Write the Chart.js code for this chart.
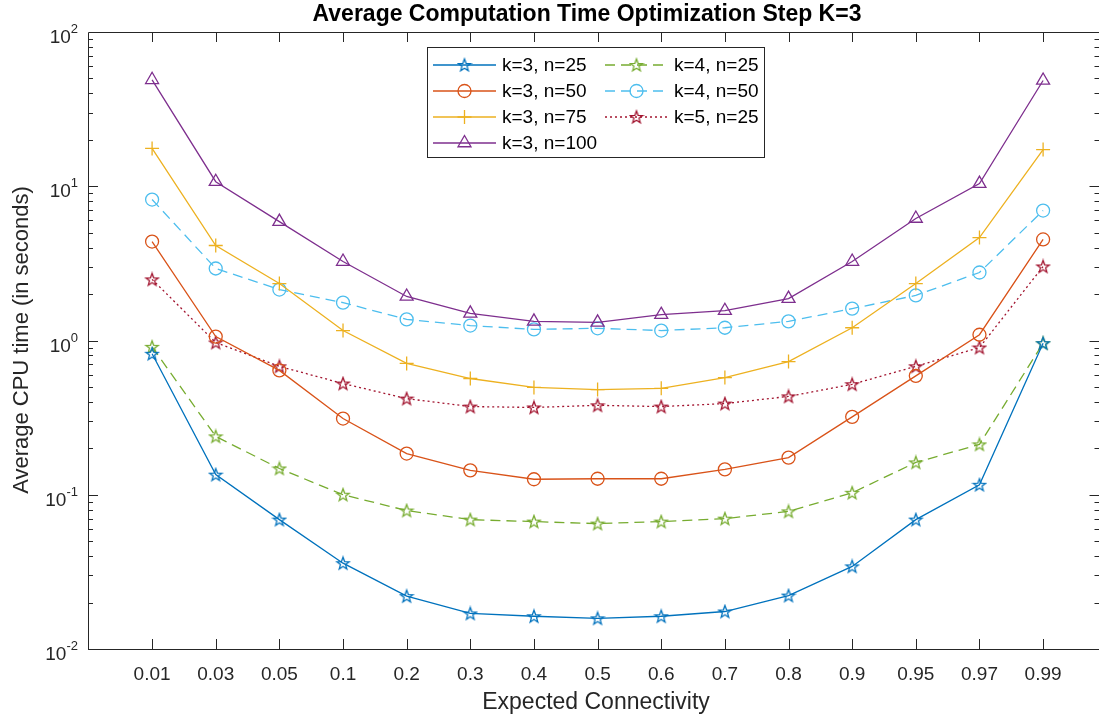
<!DOCTYPE html>
<html>
<head>
<meta charset="utf-8">
<script src="https://cdn.jsdelivr.net/npm/chart.js@4/dist/chart.umd.min.js"></script>
<style>
  body { margin: 0; background: #fff; }
  canvas { display: block; }
</style>
</head>
<body>
<canvas id="chart" width="1099" height="720"></canvas>
<script>
// x categories (Expected Connectivity)
const labels = ['0.01', '0.03', '0.05', '0.1', '0.2', '0.3', '0.4', '0.5', '0.6', '0.7', '0.8', '0.9', '0.95', '0.97', '0.99'];

// average CPU time
const k3n25  = [0.82, 0.135, 0.069, 0.036, 0.022, 0.017, 0.0163, 0.0158, 0.0163, 0.0175, 0.0222, 0.0343, 0.069, 0.116, 0.96];
const k3n50  = [4.38, 1.06, 0.64, 0.312, 0.185, 0.144, 0.126, 0.127, 0.127, 0.146, 0.174, 0.32, 0.59, 1.09, 4.52];
const k3n75  = [17.6, 4.13, 2.34, 1.16, 0.71, 0.567, 0.496, 0.481, 0.49, 0.575, 0.73, 1.21, 2.34, 4.65, 17.3];
const k3n100 = [49, 10.7, 5.9, 3.25, 1.93, 1.5, 1.33, 1.31, 1.47, 1.56, 1.87, 3.25, 6.18, 10.4, 48.5];
const k4n25  = [0.91, 0.239, 0.148, 0.1, 0.079, 0.069, 0.067, 0.065, 0.067, 0.07, 0.078, 0.103, 0.162, 0.212, 0.96];
const k4n50  = [8.2, 2.93, 2.14, 1.76, 1.37, 1.25, 1.18, 1.2, 1.16, 1.21, 1.33, 1.61, 1.96, 2.76, 6.96];
const k5n25  = [2.49, 0.97, 0.68, 0.526, 0.42, 0.373, 0.368, 0.38, 0.373, 0.39, 0.434, 0.52, 0.68, 0.9, 3.02];

// y axis: decades
const yTicks = [0.01, 0.1, 1, 10, 100];
const yExps = ['-2', '-1', '0', '1', '2'];

const FONT = '"Liberation Sans", Arial, Helvetica, sans-serif';
const AXIS = '#262626';

// hollow five-point star like matlab's pentagram marker
function makeStar(color) {
  const c = document.createElement('canvas');
  c.width = 16; c.height = 16;
  const g = c.getContext('2d');
  g.strokeStyle = color;
  g.lineWidth = 1.3;
  g.beginPath();
  for (let i = 0; i < 10; i++) {
    const r = i % 2 === 0 ? 6.5 : 2.7;
    const a = -Math.PI / 2 + i * Math.PI / 5;
    const px = 8 + r * Math.cos(a), py = 8.5 + r * Math.sin(a);
    if (i === 0) g.moveTo(px, py); else g.lineTo(px, py);
  }
  g.closePath();
  g.stroke();
  return c;
}

function series(label, vals, color, style, radius, dash) {
  return {
    label: label,
    data: vals.map((v, i) => ({ x: i, y: v })),
    borderColor: color,
    backgroundColor: color,
    borderWidth: 1.3,
    borderDash: dash,
    pointStyle: style,
    pointRadius: radius,
    pointBorderColor: color,
    pointBackgroundColor: 'rgba(0,0,0,0)',
    pointBorderWidth: 1.3,
    tension: 0
  };
}

const datasets = [
  series('k=3, n=25', k3n25, '#0072BD', makeStar('#0072BD'), 6, []),
  series('k=3, n=50', k3n50, '#D95319', 'circle', 6.5, []),
  series('k=3, n=75', k3n75, '#EDB120', 'cross', 7, []),
  series('k=3, n=100', k3n100, '#7E2F8E', 'triangle', 7.5, []),
  series('k=4, n=25', k4n25, '#77AC30', makeStar('#77AC30'), 6, [10, 6]),
  series('k=4, n=50', k4n50, '#4DBEEE', 'circle', 6.5, [10, 6]),
  series('k=5, n=25', k5n25, '#A2142F', makeStar('#A2142F'), 6, [2, 3])
];

// box, inward ticks, tick labels with exponents, titles, legend
const decor = {
  id: 'decor',
  afterDatasetsDraw(chart) {
    const ctx = chart.ctx;
    const a = chart.chartArea;
    const xs = chart.scales.x, ys = chart.scales.y;
    // the axes box runs on past the right edge of the picture
    const right = chart.width + 0.5;
    ctx.save();
    ctx.strokeStyle = AXIS;
    ctx.lineWidth = 1;
    ctx.beginPath();
    ctx.moveTo(right, a.top + 0.5); ctx.lineTo(a.left + 0.5, a.top + 0.5);
    ctx.lineTo(a.left + 0.5, a.bottom + 0.5); ctx.lineTo(right, a.bottom + 0.5);
    ctx.stroke();

    ctx.beginPath();
    labels.forEach((_, i) => {
      const px = Math.round(xs.getPixelForValue(i)) + 0.5;
      ctx.moveTo(px, a.bottom); ctx.lineTo(px, a.bottom - 10);
      ctx.moveTo(px, a.top); ctx.lineTo(px, a.top + 10);
    });
    for (let d = -2; d < 2; d++) {
      for (let m = 1; m <= 9; m++) {
        const py = Math.round(ys.getPixelForValue(m * Math.pow(10, d))) + 0.5;
        const len = m === 1 ? 10 : 5;
        ctx.moveTo(a.left, py); ctx.lineTo(a.left + len, py);
        ctx.moveTo(right, py); ctx.lineTo(right - len, py);
      }
    }
    ctx.stroke();

    // y tick labels 10^n
    ctx.fillStyle = AXIS;
    ctx.textAlign = 'right';
    ctx.textBaseline = 'alphabetic';
    yTicks.forEach((v, i) => {
      const py = ys.getPixelForValue(v);
      ctx.font = '13px ' + FONT;
      const ew = ctx.measureText(yExps[i]).width;
      ctx.fillText(yExps[i], 78, py + 1);
      ctx.font = '19px ' + FONT;
      ctx.fillText('10', 78 - ew, py + 11);
    });

    // titles
    ctx.textAlign = 'center';
    ctx.textBaseline = 'middle';
    ctx.font = 'bold 23px ' + FONT;
    ctx.fillStyle = '#000';
    ctx.fillText('Average Computation Time Optimization Step K=3', 587, 15);
    ctx.fillStyle = AXIS;
    ctx.font = '23px ' + FONT;
    ctx.fillText('Expected Connectivity', 596, 703);
    ctx.font = '22px ' + FONT;
    ctx.save();
    ctx.translate(22, 340);
    ctx.rotate(-Math.PI / 2);
    ctx.fillText('Average CPU time (in seconds)', 0, 0);
    ctx.restore();

    // legend
    const bx = 427, by = 47, bw = 337, bh = 110;
    ctx.fillStyle = '#fff';
    ctx.fillRect(bx, by, bw, bh);
    ctx.strokeStyle = AXIS;
    ctx.strokeRect(bx + 0.5, by + 0.5, bw, bh);
    const cols = [[0, 1, 2, 3], [4, 5, 6]];
    const colX = [433, 605];
    cols.forEach((col, ci) => {
      col.forEach((di, ri) => {
        const ds = datasets[di];
        const y = 65 + ri * 26;
        const x0 = colX[ci], x1 = x0 + 63;
        ctx.strokeStyle = ds.borderColor;
        ctx.lineWidth = 1.3;
        ctx.setLineDash(ds.borderDash);
        ctx.beginPath();
        ctx.moveTo(x0, y); ctx.lineTo(x1, y);
        ctx.stroke();
        ctx.setLineDash([]);
        ctx.fillStyle = 'rgba(0,0,0,0)';
        Chart.helpers.drawPoint(ctx, {
          pointStyle: ds.pointStyle, radius: ds.pointRadius, rotation: 0, borderWidth: 1.3
        }, (x0 + x1) / 2, y);
        ctx.fillStyle = '#000';
        ctx.font = '19px ' + FONT;
        ctx.textAlign = 'left';
        ctx.textBaseline = 'middle';
        ctx.fillText(ds.label, x1 + 6, y + 1);
      });
    });
    ctx.restore();
  }
};

new Chart(document.getElementById('chart'), {
  type: 'line',
  data: { datasets: datasets },
  options: {
    responsive: false,
    animation: false,
    layout: { padding: { top: 32, right: 0, left: 0, bottom: 0 } },
    plugins: {
      legend: { display: false },
      title: { display: false },
      tooltip: { enabled: false }
    },
    scales: {
      x: {
        type: 'linear',
        min: -1.007,
        max: 14.74,
        grid: { display: false, drawTicks: false },
        border: { display: false },
        afterBuildTicks: s => { s.ticks = labels.map((_, i) => ({ value: i })); },
        afterFit: s => { s.height = 71; },
        ticks: {
          autoSkip: false,
          maxRotation: 0,
          padding: 14,
          color: AXIS,
          font: { family: FONT, size: 19 },
          callback: v => labels[v]
        }
      },
      y: {
        type: 'logarithmic',
        min: 0.01,
        max: 100,
        grid: { display: false, drawTicks: false },
        border: { display: false },
        afterBuildTicks: s => { s.ticks = yTicks.map(v => ({ value: v })); },
        afterFit: s => { s.width = 88; },
        ticks: { display: false }
      }
    }
  },
  plugins: [decor]
});
</script>
</body>
</html>
